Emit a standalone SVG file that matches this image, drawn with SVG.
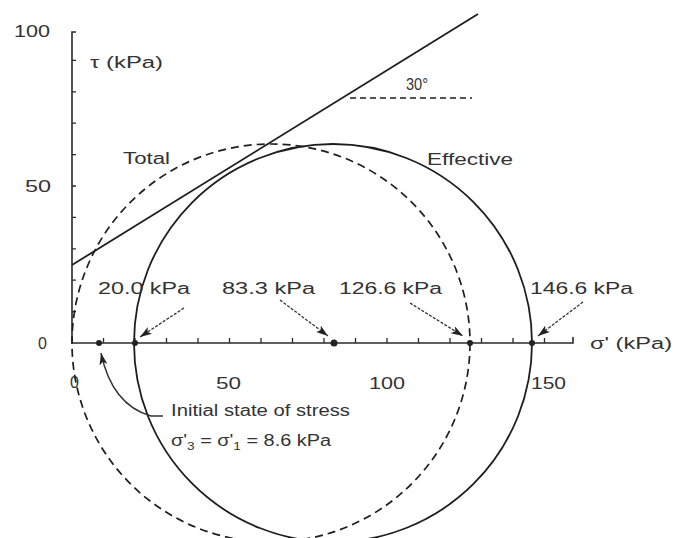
<svg xmlns="http://www.w3.org/2000/svg" width="675" height="538" viewBox="0 0 675 538">
<style>
text{font-family:"Liberation Sans",Arial,sans-serif;font-size:16px;fill:#333}
.ax{stroke:#2a2a2a;stroke-width:1.6;fill:none}
.tk{stroke:#2a2a2a;stroke-width:1.3;fill:none}
.solid{stroke:#1e1e1e;stroke-width:1.8;fill:none}
.dash{stroke:#1e1e1e;stroke-width:1.7;fill:none;stroke-dasharray:8,5}
.arr{stroke:#333;stroke-width:1.3;fill:none;stroke-dasharray:3,1.5;marker-end:url(#ah)}
.lead{stroke:#333;stroke-width:1.4;fill:none;marker-end:url(#ah)}
.dot{fill:#222}
</style>
<defs>
<marker id="ah" viewBox="0 0 12 8" refX="12" refY="4" markerWidth="12" markerHeight="8" markerUnits="userSpaceOnUse" orient="auto">
<path d="M0,0 L12,4 L0,8 L3,4 Z" fill="#222"/>
</marker>
</defs>
<rect width="675" height="538" fill="#fff"/>
<g id="axes">
<path class="ax" d="M72,343 V32 H76 M72,343 H573 V337"/>
<path class="tk" d="M72,311.6h4M72,280.2h4M72,248.8h4M72,217.4h4M72,186h4M72,154.6h4M72,123.2h4M72,91.8h4M72,60.4h4"/>
<path class="tk" d="M103.5,343v-5M135,343v-5M166.5,343v-5M198,343v-5M229.5,343v-5M261,343v-5M292.5,343v-5M324,343v-5M355.5,343v-5M387,343v-5M418.5,343v-5M450,343v-5M481.5,343v-5M513,343v-5M544.5,343v-5"/>
<text x="14" y="37" textLength="36" lengthAdjust="spacingAndGlyphs">100</text>
<text x="25" y="192" textLength="26" lengthAdjust="spacingAndGlyphs">50</text>
<text x="38" y="349">0</text>
<text x="70" y="388">0</text>
<text x="216" y="389" textLength="25" lengthAdjust="spacingAndGlyphs">50</text>
<text x="369" y="389" textLength="36" lengthAdjust="spacingAndGlyphs">100</text>
<text x="531" y="389" textLength="35" lengthAdjust="spacingAndGlyphs">150</text>
<text x="90" y="68" textLength="73" lengthAdjust="spacingAndGlyphs">τ (kPa)</text>
<text x="590" y="349" textLength="82" lengthAdjust="spacingAndGlyphs">σ' (kPa)</text>
</g>
<g id="envelope">
<path class="solid" d="M72,265 L478,14"/>
<path class="dash" d="M350,98 H472" style="stroke-dasharray:6,4;stroke-width:1.5"/>
<text x="406" y="90" textLength="22" lengthAdjust="spacingAndGlyphs">30°</text>
</g>
<g id="total-circle">
<circle class="dash" cx="271" cy="343" r="199"/>
<text x="123" y="164" textLength="47" lengthAdjust="spacingAndGlyphs">Total</text>
</g>
<g id="effective-circle">
<circle class="solid" cx="333" cy="343" r="199"/>
<text x="427" y="165" textLength="86" lengthAdjust="spacingAndGlyphs">Effective</text>
</g>
<g id="points">
<circle class="dot" cx="99" cy="343" r="3"/>
<circle class="dot" cx="135" cy="343" r="3"/>
<circle class="dot" cx="334" cy="343" r="3.5"/>
<circle class="dot" cx="470" cy="343" r="3"/>
<circle class="dot" cx="532" cy="343" r="3"/>
</g>
<g id="labels">
<text x="98" y="294" textLength="92" lengthAdjust="spacingAndGlyphs">20.0 kPa</text>
<text x="222" y="294" textLength="93" lengthAdjust="spacingAndGlyphs">83.3 kPa</text>
<text x="339" y="294" textLength="103" lengthAdjust="spacingAndGlyphs">126.6 kPa</text>
<text x="530" y="294" textLength="103" lengthAdjust="spacingAndGlyphs">146.6 kPa</text>
<text x="171" y="416" textLength="179" lengthAdjust="spacingAndGlyphs">Initial state of stress</text>
<text x="171" y="446" textLength="160" lengthAdjust="spacingAndGlyphs">σ'<tspan font-size="11" dy="4">3</tspan><tspan dy="-4"> = σ'</tspan><tspan font-size="11" dy="4">1</tspan><tspan dy="-4"> = 8.6 kPa</tspan></text>
</g>
<g id="connectors">
<path class="arr" d="M184,308 L140,337"/>
<path class="arr" d="M280,300 L328,336"/>
<path class="arr" d="M410,303 L463,336"/>
<path class="arr" d="M583,302 L538,336"/>
<path class="lead" d="M163,416 H151 Q112,405 101,353"/>
</g>
</svg>
